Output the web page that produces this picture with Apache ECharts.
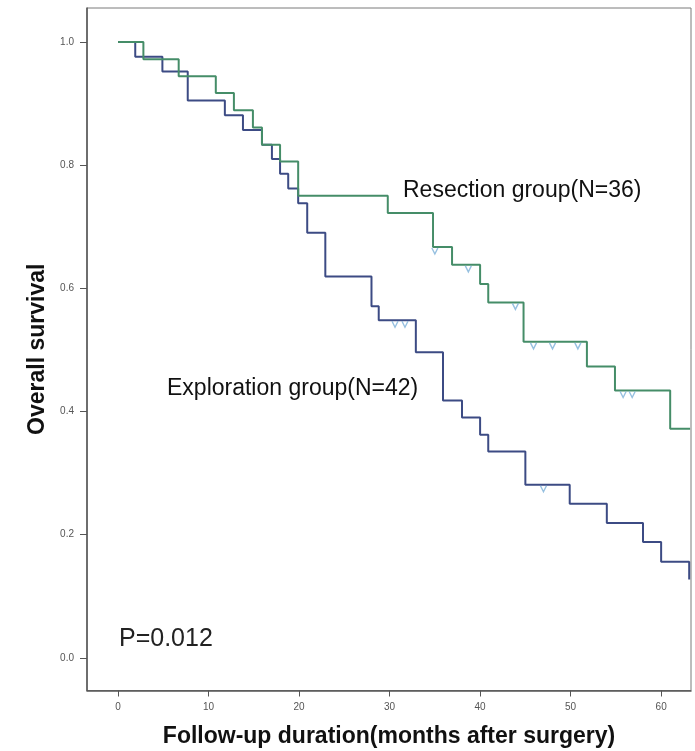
<!DOCTYPE html>
<html>
<head>
<meta charset="utf-8">
<script src="https://cdn.jsdelivr.net/npm/echarts@6/dist/echarts.min.js"></script>
<style>
  html, body { margin: 0; padding: 0; background: #ffffff; }
  #chart { width: 695px; height: 751px; }
</style>
</head>
<body>
<div id="chart"></div>
<script>
// Kaplan–Meier survival: time of each step (months) and survival after that step
const resectionTimes = [0, 2.8, 6.7, 10.8, 12.8, 14.9, 15.9, 17.9, 19.9, 29.8, 34.8, 36.9, 40.0, 40.9, 44.8, 51.8, 54.9, 61.0, 63.2];
const resectionSurv  = [1.0, 0.972, 0.944, 0.917, 0.889, 0.861, 0.833, 0.806, 0.750, 0.722, 0.667, 0.638, 0.607, 0.577, 0.513, 0.473, 0.434, 0.372, 0.372];
const resectionCensorTimes = [35.0, 38.7, 43.9, 45.9, 48.0, 50.8, 55.8, 56.8];
const resectionCensorSurv  = [0.667, 0.638, 0.577, 0.513, 0.513, 0.513, 0.434, 0.434];

const explorationTimes = [0, 1.9, 4.9, 7.7, 11.8, 13.8, 15.9, 17.0, 17.9, 18.8, 19.9, 20.9, 22.9, 28.0, 28.8, 32.9, 35.9, 38.0, 40.0, 40.9, 45.0, 49.9, 54.0, 58.0, 60.0, 63.1];
const explorationSurv  = [1.0, 0.976, 0.952, 0.905, 0.881, 0.857, 0.833, 0.810, 0.786, 0.762, 0.738, 0.690, 0.619, 0.571, 0.548, 0.496, 0.418, 0.390, 0.362, 0.335, 0.281, 0.250, 0.219, 0.188, 0.156, 0.127];
const explorationCensorTimes = [30.6, 31.7, 47.0];
const explorationCensorSurv  = [0.548, 0.548, 0.281];

const xTicks = [0, 10, 20, 30, 40, 50, 60];
const yTicks = [0, 0.2, 0.4, 0.6, 0.8, 1.0];

const resectionLabel = 'Resection group(N=36)';
const explorationLabel = 'Exploration group(N=42)';
const pValueLabel = 'P=0.012';

const FONT = '"Liberation Sans", Arial, sans-serif';
const GREEN = '#458d68';
const BLUE = '#3c4b84';
const CENSOR = '#7cb0d8';

const pairs = (xs, ys) => xs.map((x, i) => [x, ys[i]]);

const censorSymbol = 'path://M0,0L5,8L10,0';

const chart = echarts.init(document.getElementById('chart'), null, { renderer: 'canvas' });

chart.setOption({
  backgroundColor: '#ffffff',
  animation: false,
  grid: {
    left: 87, right: 4, top: 8, bottom: 60.5,
    outerBoundsMode: 'none',
    containLabel: false,
    show: true, borderColor: '#7a7a7a', borderWidth: 1, backgroundColor: 'transparent'
  },
  xAxis: {
    type: 'value',
    min: -3.43, max: 63.3,
    name: 'Follow-up duration(months after surgery)',
    nameLocation: 'middle',
    nameGap: 35,
    nameTextStyle: { fontFamily: FONT, fontWeight: 'bold', fontSize: 23, color: '#111' },
    axisLine: { show: true, onZero: false, lineStyle: { color: '#555', width: 1.5 } },
    axisTick: { show: true, inside: false, length: 6, customValues: xTicks, lineStyle: { color: '#555' } },
    axisLabel: {
      customValues: xTicks, margin: 12, fontFamily: FONT, fontSize: 10, color: '#555',
      formatter: v => String(Math.round(v))
    },
    splitLine: { show: false }
  },
  yAxis: {
    type: 'value',
    min: -0.053, max: 1.055,
    name: 'Overall survival',
    nameLocation: 'middle',
    nameRotate: 90,
    nameGap: 38,
    nameTextStyle: { fontFamily: FONT, fontWeight: 'bold', fontSize: 23, color: '#111' },
    axisLine: { show: true, onZero: false, lineStyle: { color: '#555', width: 1.5 } },
    axisTick: { show: true, inside: false, length: 7, customValues: yTicks, lineStyle: { color: '#555' } },
    axisLabel: {
      customValues: yTicks, margin: 13, fontFamily: FONT, fontSize: 10, color: '#555',
      formatter: v => v.toFixed(1)
    },
    splitLine: { show: false }
  },
  series: [
    {
      name: 'Exploration',
      type: 'line',
      step: 'end',
      data: pairs(explorationTimes, explorationSurv),
      showSymbol: false,
      lineStyle: { color: BLUE, width: 2 },
      z: 3
    },
    {
      name: 'Resection',
      type: 'line',
      step: 'end',
      data: pairs(resectionTimes, resectionSurv),
      showSymbol: false,
      lineStyle: { color: GREEN, width: 2 },
      z: 4
    },
    {
      name: 'Resection censored',
      type: 'scatter',
      data: pairs(resectionCensorTimes, resectionCensorSurv),
      symbol: censorSymbol,
      symbolSize: [6, 6],
      symbolOffset: [0, 4],
      itemStyle: { color: 'transparent', borderColor: CENSOR, borderWidth: 1.4 },
      z: 5
    },
    {
      name: 'Exploration censored',
      type: 'scatter',
      data: pairs(explorationCensorTimes, explorationCensorSurv),
      symbol: censorSymbol,
      symbolSize: [6, 6],
      symbolOffset: [0, 4],
      itemStyle: { color: 'transparent', borderColor: CENSOR, borderWidth: 1.4 },
      z: 5
    }
  ],
  graphic: [
    {
      type: 'text', left: 403, top: 179,
      style: { text: resectionLabel, font: '23px ' + FONT, fill: '#111' }
    },
    {
      type: 'text', left: 167, top: 377,
      style: { text: explorationLabel, font: '23px ' + FONT, fill: '#111' }
    },
    {
      type: 'text', left: 119, top: 627,
      style: { text: pValueLabel, font: '25px ' + FONT, fill: '#222' }
    }
  ]
});
</script>
</body>
</html>
